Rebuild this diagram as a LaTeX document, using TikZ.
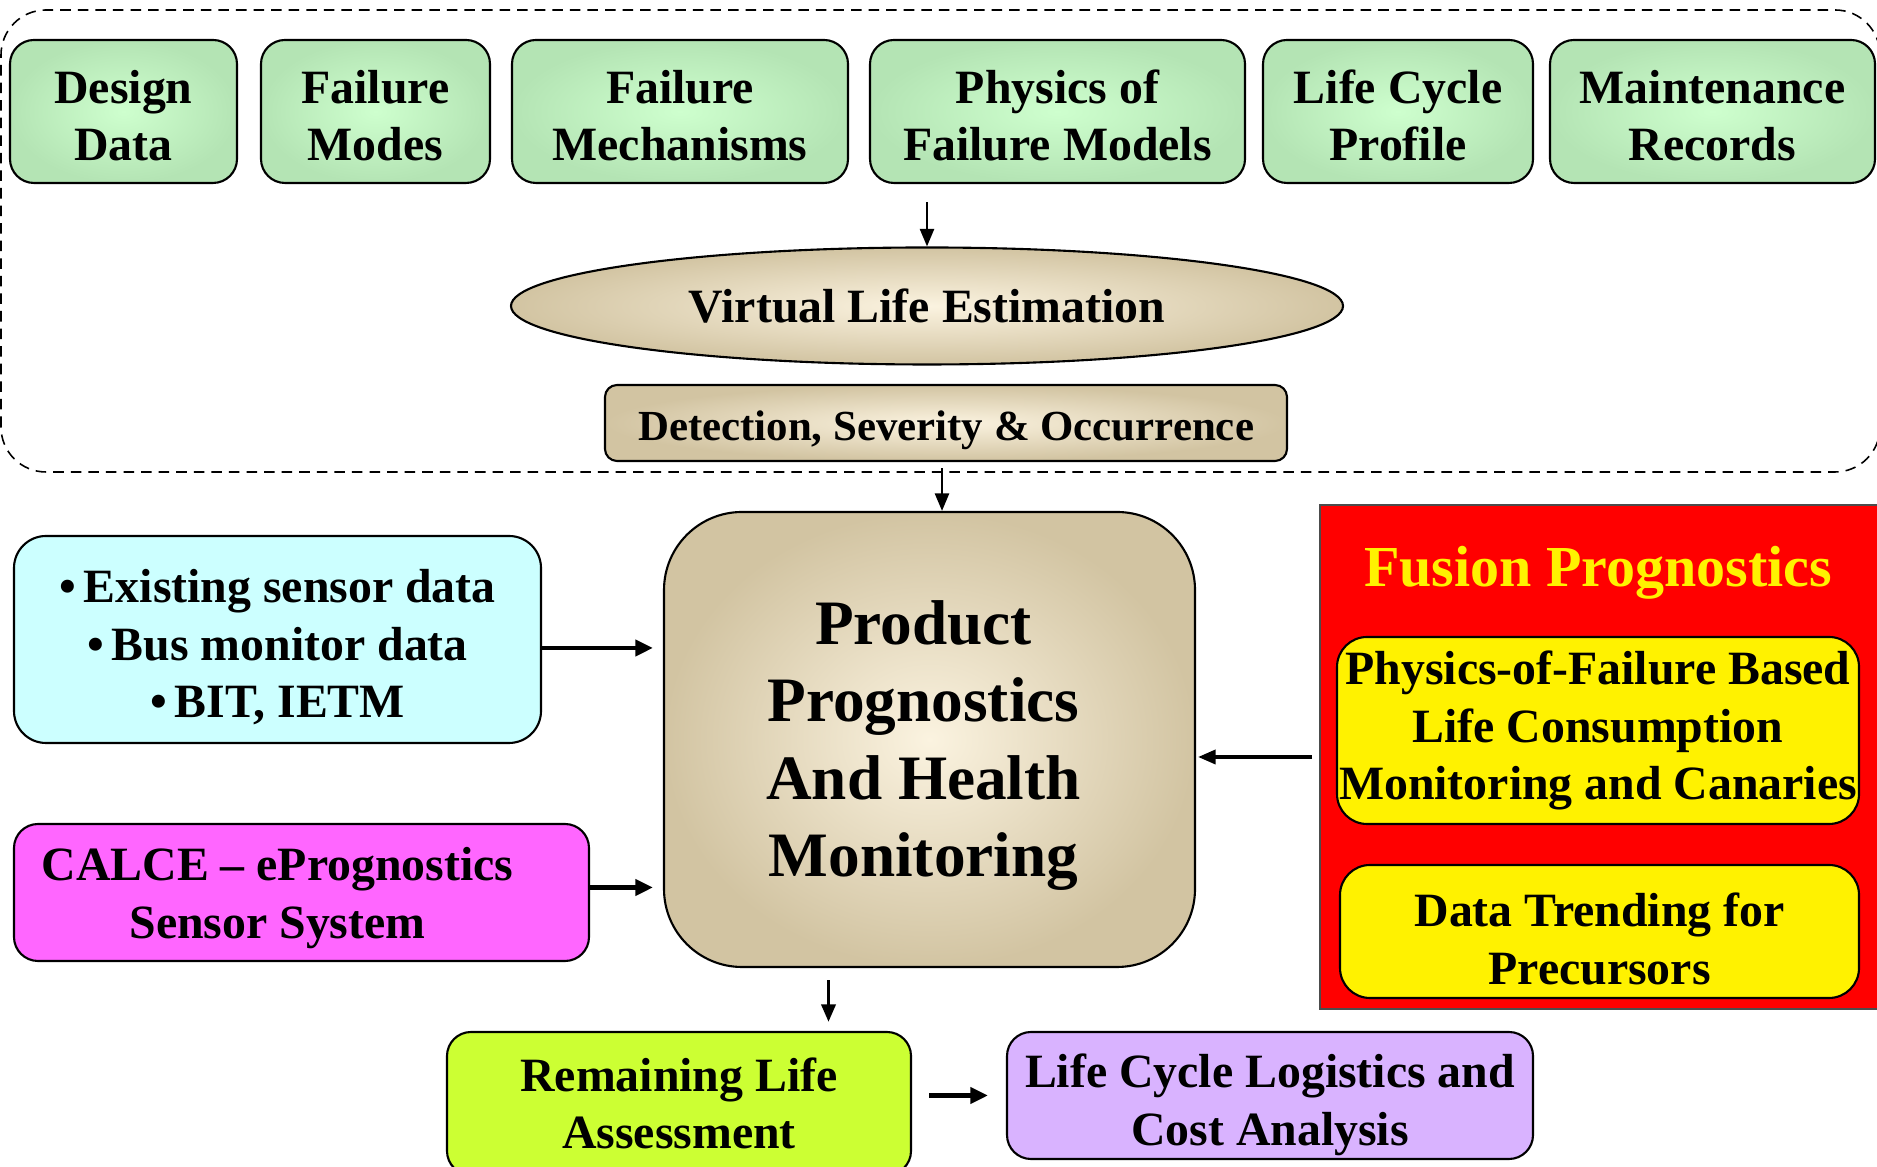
\documentclass[tikz,border=0pt]{standalone}
\usepackage{fontspec}
\setmainfont{Liberation Serif}
\usepackage{tikz}
\usetikzlibrary{shapes.geometric,arrows.meta,positioning,calc}

\definecolor{pofgreen}{RGB}{206,255,206}
\definecolor{pofgreendk}{RGB}{180,228,180}
\definecolor{tanlight}{RGB}{251,243,224}
\definecolor{tandark}{RGB}{210,196,162}
\definecolor{sensorcyan}{RGB}{204,255,255}
\definecolor{calcepink}{RGB}{255,102,255}
\definecolor{rlalime}{RGB}{204,255,51}
\definecolor{lcllilac}{RGB}{217,179,255}
\newcommand{\boxfont}{\fontsize{13.6}{16.4}\selectfont\bfseries}
% taller first line pushes a text block down a little
\newcommand{\padtop}[1]{\rule{0pt}{#1}}

\tikzset{
  blk/.style={draw=black, line width=0.6pt, rounded corners=0.24cm, align=center, inner sep=0pt, font=\boxfont},
  greenbox/.style={blk, inner color=pofgreen, outer color=pofgreendk, minimum height=1.43cm},
  tanbox/.style={blk, inner color=tanlight, outer color=tandark},
  arr/.style={-{Triangle[length=5pt,width=4pt]}, line width=0.7pt},
  arrthick/.style={-{Triangle[length=5pt,width=4.5pt]}, line width=1.3pt},
}

\begin{document}
\begin{tikzpicture}
\useasboundingbox (0,0) rectangle (18.77,11.67);

% virtual life part
\draw[dashed, dash pattern=on 3pt off 2pt, line width=0.45pt, rounded corners=0.45cm] (0.01,6.95) rectangle (18.80,11.57);

\node[greenbox, minimum width=2.27cm] (dd) at (1.235,10.555) {\padtop{11.8pt}Design\\Data};
\node[greenbox, minimum width=2.29cm] (fmo) at (3.755,10.555) {\padtop{11.8pt}Failure\\Modes};
\node[greenbox, minimum width=3.36cm] (fme) at (6.80,10.555) {\padtop{11.8pt}Failure\\Mechanisms};
\node[greenbox, minimum width=3.75cm] (phys) at (10.575,10.555) {\padtop{11.8pt}Physics of\\Failure Models};
\node[greenbox, minimum width=2.70cm] (lcp) at (13.98,10.555) {\padtop{11.8pt}Life Cycle\\Profile};
\node[greenbox, minimum width=3.25cm] (mr) at (17.125,10.555) {\padtop{11.8pt}Maintenance\\Records};

\node[tanbox, ellipse, minimum width=8.32cm, minimum height=1.17cm] (ve) at (9.27,8.61) {Virtual Life Estimation};
\node[tanbox, minimum width=6.82cm, minimum height=0.76cm, rounded corners=0.12cm, font=\fontsize{12.2}{14}\selectfont\bfseries] (dso) at (9.46,7.44) {\padtop{12.4pt}Detection, Severity \& Occurrence};

% prognostics
\node[tanbox, minimum width=5.31cm, minimum height=4.55cm, rounded corners=0.78cm] (pphm) at (9.295,4.275) {};
\node[font=\fontsize{18}{22}\selectfont\bfseries, align=center, inner sep=0pt] (pphmtxt) at ([xshift=-0.06cm,yshift=-0.06cm]pphm.center) {Product\\Prognostics\\And Health\\Monitoring};

\node[blk, fill=sensorcyan, minimum width=5.27cm, minimum height=2.07cm, rounded corners=0.32cm] (sens) at (2.775,5.275) {\padtop{13.8pt}\textbullet\,Existing sensor data\\\textbullet\,Bus monitor data\\\textbullet\,BIT, IETM};
\node[blk, fill=calcepink, minimum width=5.75cm, minimum height=1.37cm] (calce) at (3.015,2.745) {};
\node[font=\boxfont, align=center, inner sep=0pt] (calcetxt) at ([xshift=-0.24cm,yshift=-0.055cm]calce.center) {CALCE -- ePrognostics\\Sensor System};

\node[draw=black!70, line width=0.5pt, fill=red, minimum width=5.6cm, minimum height=5.04cm, inner sep=0pt] (fus) at (16.0,4.10) {};
\node[text=yellow, font=\fontsize{16.5}{20}\selectfont\bfseries, inner sep=0pt] (fustitle) at (15.98,5.94) {Fusion Prognostics};
\node[blk, fill=yellow, minimum width=5.22cm, minimum height=1.87cm, rounded corners=0.3cm] (pof) at (15.98,4.365) {Physics-of-Failure Based\\Life Consumption\\Monitoring and Canaries};
\node[blk, fill=yellow, minimum width=5.19cm, minimum height=1.33cm, rounded corners=0.3cm] (dtp) at (15.995,2.355) {\padtop{13.8pt}Data Trending for\\Precursors};

\node[blk, fill=rlalime, minimum width=4.64cm, minimum height=1.43cm] (rla) at (6.79,0.635) {Remaining Life\\Assessment};
\node[blk, fill=lcllilac, minimum width=5.26cm, minimum height=1.27cm] (lcl) at (12.70,0.715) {\padtop{14.8pt}Life Cycle Logistics and\\Cost Analysis};

% connections
\draw[arr, shorten <=0.18cm] (ve.north |- phys.south) -- (ve.north);
\draw[arr, shorten <=0.06cm] ([xshift=-0.04cm]dso.south) -- ([xshift=-0.04cm]dso.south |- pphm.north);
\draw[arrthick, shorten >=0.1cm] ([yshift=-0.085cm]sens.east) -- ([yshift=-0.085cm]sens.east -| pphm.west);
\draw[arrthick, shorten >=0.1cm] ([yshift=0.05cm]calce.east) -- ([yshift=0.05cm]calce.east -| pphm.west);
\draw[arr, line width=1pt, shorten <=0.07cm, shorten >=0.02cm] (fus.west) -- (fus.west -| pphm.east);
\coordinate (dn) at ($(pphm.south)+(-1.01,-0.12)$);
\draw[arr, line width=1pt, shorten >=0.09cm] (dn) -- (dn |- rla.north);
\draw[arrthick, line width=1.6pt, shorten <=0.17cm, shorten >=0.18cm] (rla.east |- lcl.west) -- (lcl.west);

\end{tikzpicture}
\end{document}
